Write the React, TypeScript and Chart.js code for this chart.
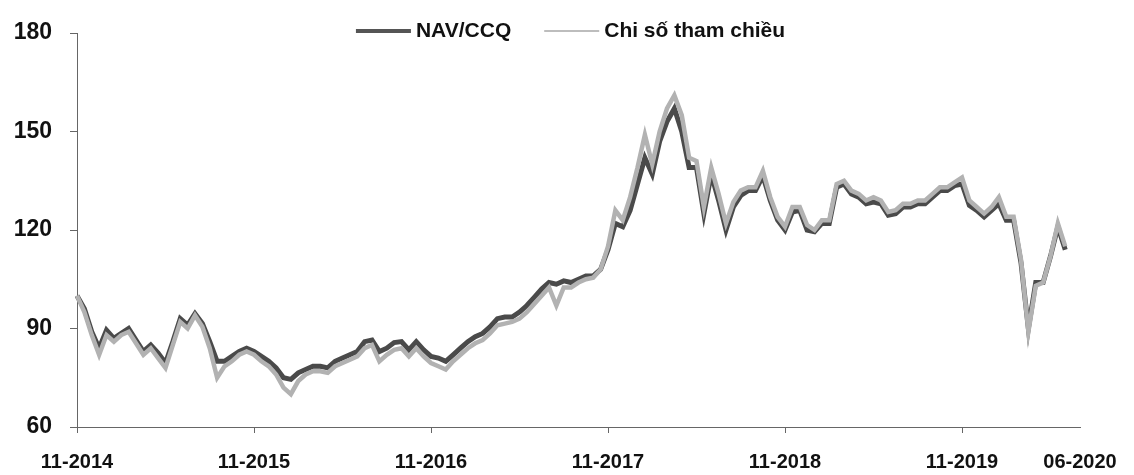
import React, { useEffect, useRef } from 'react';
import { Chart, registerables } from 'chart.js';

Chart.register(...registerables);

// Half-month observations from 11-2014 to 06-2020
const navValues: (number | null)[] = [
  100, 96, 89, 84, 89.5, 87, 88.5, 90, 86.5, 83, 85, 82.5, 79.5, 86, 93, 91, 94.5, 91.5, 86, 80,
  80, 81.5, 83, 84, 83, 81.5, 80, 78, 75, 74.5, 76.5, 77.5, 78.5, 78.5, 78, 80, 81, 82, 83, 86,
  86.5, 83, 84, 85.7, 86, 83.5, 86, 83.5, 81.5, 81, 80, 82, 84, 86, 87.5, 88.5, 90.5, 93, 93.5, 93.5,
  95, 97, 99.5, 102, 104, 103.5, 104.5, 104, 105, 106, 106, 108, 114, 122, 121, 126, 134, 142, 137, 147,
  153, 157, 150, 139, 139, 125, 137, 129, 120, 127, 130.5, 132, 132, 136.5, 129, 123, 120, 125.5, 126, 120,
  119.5, 122, 122, 133, 134, 131, 130, 128, 128.5, 128, 124.5, 125, 127, 127, 128, 128, 130, 132, 132, 133.5,
  134, 127.5, 126, 124, 126, 128, 123, 123, 110, 90, 104, 104, 112, 121, 114, null, null,
];

const refValues: (number | null)[] = [
  100, 95, 88, 82, 88, 86, 88, 89, 85.5, 82, 84, 81, 78, 85, 92, 90, 94, 90.5, 84, 75,
  78.5, 80, 82, 83, 82, 80, 78.5, 76, 72, 70, 74, 76, 77, 77, 76.5, 78.5, 79.5, 80.5, 81.5, 84,
  85, 80, 82, 83.5, 84, 81.5, 84, 81.5, 79.5, 78.5, 77.5, 80, 82, 84, 85.5, 86.5, 88.5, 91, 91.5, 92,
  93, 95, 97.5, 100, 102.5, 97, 102.5, 102.5, 104, 105, 105.5, 108, 115, 126, 123, 130, 139, 149, 140, 150,
  157, 161, 155, 142, 141, 127, 139, 131, 122, 128.5, 132, 133, 133, 138, 130, 124, 121, 127, 127, 121.5,
  120, 123, 123, 134, 135, 132, 131, 129, 130, 129, 125.5, 126, 128, 128, 129, 129, 131, 133, 133, 134.5,
  136, 129, 127, 125, 127, 130, 124, 124, 111, 89, 103, 104, 112, 122, 115, null, null,
];

const seriesNames = ['NAV/CCQ', 'Chi số tham chiều'];
const tickIndexes = [0, 24, 48, 72, 96, 120, 136];
const yTicks = [60, 90, 120, 150, 180];

// Category labels: two observations per month, Nov 2014 .. Jun 2020, closing label 06-2020
function buildPeriods(): string[] {
  const out: string[] = [];
  let m = 11;
  let y = 2014;
  for (let k = 0; k < 68; k++) {
    const lab = `${String(m).padStart(2, '0')}-${y}`;
    out.push(lab, lab);
    m += 1;
    if (m > 12) {
      m = 1;
      y += 1;
    }
  }
  out.push('06-2020');
  return out;
}
const periodLabels = buildPeriods();

const FONT = '"Liberation Sans", Arial, sans-serif';
const NAV_COLOR = '#4a4a4a';
const REF_COLOR = '#b2b2b2';

const legendPlugin = {
  id: 'topLegend',
  afterDraw(chart: any) {
    const { ctx, chartArea } = chart;
    const ds = chart.data.datasets;
    ctx.save();
    ctx.font = `bold 21px ${FONT}`;
    ctx.textBaseline = 'middle';
    const sample = 55;
    const gapText = 5;
    const gapItem = 33;
    const widths = ds.map((d: any) => ctx.measureText(d.label).width);
    const total = ds.reduce((s: number, _d: any, i: number) => s + sample + gapText + widths[i], 0) + gapItem * (ds.length - 1);
    const cx = (chartArea.left + chartArea.right) / 2 - 8;
    let x = cx - total / 2;
    const y = chartArea.top - 2;
    ds.forEach((d: any, i: number) => {
      ctx.strokeStyle = d.legendColor;
      ctx.lineWidth = d.legendWidth;
      ctx.beginPath();
      ctx.moveTo(x, y);
      ctx.lineTo(x + sample, y);
      ctx.stroke();
      x += sample + gapText;
      ctx.fillStyle = '#111';
      ctx.textAlign = 'left';
      ctx.fillText(d.label, x, y);
      x += widths[i] + gapItem;
    });
    ctx.restore();
  },
};

export default function App() {
  const canvasRef = useRef<HTMLCanvasElement | null>(null);

  useEffect(() => {
    if (!canvasRef.current) return;
    const chart = new Chart(canvasRef.current, {
      type: 'line',
      data: {
        labels: periodLabels,
        datasets: [
          {
            label: seriesNames[0],
            data: navValues,
            borderColor: NAV_COLOR,
            backgroundColor: NAV_COLOR,
            borderWidth: 5,
            pointRadius: 0,
            tension: 0,
            order: 1,
            legendColor: '#555',
            legendWidth: 4,
          } as any,
          {
            label: seriesNames[1],
            data: refValues,
            borderColor: REF_COLOR,
            backgroundColor: REF_COLOR,
            borderWidth: 4.5,
            pointRadius: 0,
            tension: 0,
            order: 0,
            legendColor: '#bdbdbd',
            legendWidth: 2,
          } as any,
        ],
      },
      options: {
        animation: false,
        responsive: true,
        maintainAspectRatio: false,
        layout: { padding: { top: 33, right: 54, bottom: 0, left: 0 } },
        plugins: {
          legend: { display: false },
          tooltip: { enabled: false },
        },
        scales: {
          x: {
            type: 'category',
            offset: false,
            grid: {
              drawOnChartArea: false,
              drawTicks: true,
              tickLength: 6,
              color: (c: any) => (c.tick && c.tick.value === 136 ? 'rgba(0,0,0,0)' : '#666'),
            },
            border: { display: true, color: '#666', width: 1 },
            ticks: {
              autoSkip: false,
              maxRotation: 0,
              minRotation: 0,
              padding: 17,
              color: '#111',
              font: { family: FONT, size: 20, weight: 'bold' },
              callback: function (this: any, value: any) {
                return this.getLabelForValue(value);
              },
            },
            afterBuildTicks: (axis: any) => {
              axis.ticks = tickIndexes.map((v) => ({ value: v }));
            },
            afterFit: (axis: any) => {
              axis.height = 48;
            },
          },
          y: {
            min: 60,
            max: 180,
            grid: { drawOnChartArea: false, drawTicks: true, tickLength: 7, color: '#666' },
            border: { display: true, color: '#666', width: 1 },
            ticks: {
              padding: 18,
              color: '#111',
              font: { family: FONT, size: 23, weight: 'bold' },
            },
            afterBuildTicks: (axis: any) => {
              axis.ticks = yTicks.map((v) => ({ value: v }));
            },
            afterFit: (axis: any) => {
              axis.width = 77;
            },
          },
        },
      } as any,
      plugins: [legendPlugin],
    });
    return () => chart.destroy();
  }, []);

  return (
    <div style={{ position: 'fixed', left: 0, top: 0, width: 1134, height: 475, background: '#fff' }}>
      <canvas ref={canvasRef} />
    </div>
  );
}
